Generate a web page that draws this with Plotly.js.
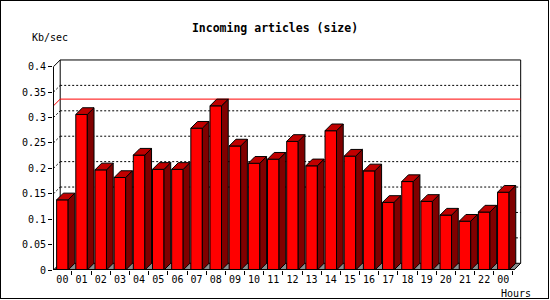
<!DOCTYPE html>
<html>
<head>
<meta charset="utf-8">
<script src="https://cdn.plot.ly/plotly-3.0.1.min.js"></script>
<style>
  html, body { margin: 0; padding: 0; background: #fff; }
  #wrap { position: relative; width: 550px; height: 300px; }
  #chart { width: 550px; height: 300px; }
  #frame { position: absolute; left: 0; top: 0; width: 549px; height: 299px;
           box-sizing: border-box; border: 1px solid #000; pointer-events: none; }
</style>
</head>
<body>
<div id="wrap"><div id="chart"></div><div id="frame"></div></div>
<script>
// ---- data ----
const hours = ['00','01','02','03','04','05','06','07','08','09','10','11',
               '12','13','14','15','16','17','18','19','20','21','22','00'];
const kbps = [0.138, 0.306, 0.197, 0.182, 0.226, 0.198, 0.198, 0.279,
              0.323, 0.244, 0.210, 0.218, 0.253, 0.205, 0.274, 0.224,
              0.195, 0.133, 0.174, 0.135, 0.108, 0.096, 0.114, 0.153];
const gridLevels = [0.15, 0.2, 0.25, 0.3, 0.35];
const shortGridLevels = [0.05, 0.1];

// ---- geometry (data units) ----
const N = kbps.length;
const idx = hours.map((_, i) => i);
const BAR_W = 0.6, DX = 0.35, DY = 0.0132;
const X_RANGE = [-0.49, 23.975];
const Y_RANGE = [0, 0.4151];
const X0 = -0.465;               // front y-axis position
const Y_TOP = 0.4;
const PLANE_R = 23.906;          // back plane right edge
const FRONT_R = PLANE_R - DX;    // front axis right end
const vmax = Math.max(...kbps);

// 3D faces
const sx = [], sy = [], tx = [], ty = [];
kbps.forEach((v, i) => {
  const xl = i - BAR_W / 2, xr = i + BAR_W / 2;
  sx.push(xr, xr + DX, xr + DX, xr, xr, null);
  sy.push(0, DY, v + DY, v, 0, null);
  tx.push(xl, xl + DX, xr + DX, xr, xl, null);
  ty.push(v, v + DY, v + DY, v, v, null);
});

const traces = [
  { type: 'bar', x: idx, y: kbps, width: BAR_W,
    marker: { color: '#ff0000', line: { color: '#000', width: 1 } },
    hoverinfo: 'skip' },
  { type: 'scatter', mode: 'lines', x: sx, y: sy, fill: 'toself',
    fillcolor: '#800000', line: { color: '#000', width: 1 }, hoverinfo: 'skip' },
  { type: 'scatter', mode: 'lines', x: tx, y: ty, fill: 'toself',
    fillcolor: '#c00000', line: { color: '#000', width: 1 }, hoverinfo: 'skip' }
];

const DOT = '2px,2px';
const shapes = [];
// floor
shapes.push({ type: 'path', layer: 'below', xref: 'x', yref: 'y',
  path: `M${X0},0 L${X0 + DX},${DY} L${PLANE_R},${DY} L${FRONT_R},0 Z`,
  fillcolor: '#8c8c8c', line: { color: '#000', width: 1 } });
// back plane outline
shapes.push({ type: 'path', layer: 'below', xref: 'x', yref: 'y',
  path: `M${X0 + DX},${DY} L${X0 + DX},${Y_TOP + DY} L${PLANE_R},${Y_TOP + DY} L${PLANE_R},${DY}`,
  line: { color: '#000', width: 1 } });
// left wall top diagonal
shapes.push({ type: 'line', layer: 'below', xref: 'x', yref: 'y',
  x0: X0, y0: Y_TOP, x1: X0 + DX, y1: Y_TOP + DY, line: { color: '#000', width: 1 } });
// gridlines
gridLevels.forEach(g => {
  shapes.push({ type: 'line', layer: 'below', xref: 'x', yref: 'y',
    x0: X0 + DX, y0: g + DY, x1: PLANE_R, y1: g + DY, line: { color: '#000', width: 1, dash: DOT } });
  shapes.push({ type: 'line', layer: 'below', xref: 'x', yref: 'y',
    x0: X0, y0: g, x1: X0 + DX, y1: g + DY, line: { color: '#000', width: 1, dash: DOT } });
});
shortGridLevels.forEach(g => {
  shapes.push({ type: 'line', layer: 'below', xref: 'x', yref: 'y',
    x0: (N - 1) + 0.45, y0: g + DY, x1: PLANE_R, y1: g + DY, line: { color: '#000', width: 1, dash: DOT } });
});
// max line
shapes.push({ type: 'path', layer: 'below', xref: 'x', yref: 'y',
  path: `M${X0},${vmax} L${X0 + DX},${vmax + DY} L${PLANE_R},${vmax + DY}`,
  line: { color: '#ff0000', width: 1 } });
// front axes
shapes.push({ type: 'line', layer: 'above', xref: 'x', yref: 'y',
  x0: X0, y0: 0, x1: X0, y1: Y_TOP, line: { color: '#000', width: 1 } });
shapes.push({ type: 'line', layer: 'above', xref: 'x', yref: 'y',
  x0: X0, y0: 0.001, x1: FRONT_R, y1: 0.001, line: { color: '#000', width: 1 } });

const FONT = 'DejaVu Sans Mono, Liberation Mono, monospace';
const layout = {
  width: 550, height: 300,
  margin: { l: 53, r: 28, t: 59, b: 30, pad: 0 },
  paper_bgcolor: '#fff', plot_bgcolor: 'rgba(0,0,0,0)',
  showlegend: false,
  font: { family: FONT, size: 10, color: '#000' },
  title: { text: '<b>Incoming articles (size)</b>', x: 0.5, xanchor: 'center',
           y: 0.907, yanchor: 'middle', yref: 'container',
           font: { family: FONT, size: 11.5, color: '#000' } },
  xaxis: {
    range: X_RANGE, showgrid: false, zeroline: false, showline: false,
    tickmode: 'array', tickvals: idx, ticktext: hours,
    ticks: 'outside', ticklen: 0, tickcolor: 'rgba(0,0,0,0)',
    tickfont: { family: FONT, size: 10, color: '#000' },
    minor: { tickmode: 'array', tickvals: idx.concat([N]).map(i => i - 0.5),
             ticks: 'outside', ticklen: 4, tickcolor: '#000', tickwidth: 1, showgrid: false },
    fixedrange: true
  },
  yaxis: {
    range: Y_RANGE, showgrid: false, zeroline: false, showline: false,
    tickmode: 'linear', tick0: 0, dtick: 0.05,
    ticks: 'outside', ticklen: 4, tickcolor: '#000', tickwidth: 1,
    tickfont: { family: FONT, size: 10, color: '#000' },
    fixedrange: true
  },
  shapes: shapes,
  annotations: [
    { text: 'Kb/sec', xref: 'paper', yref: 'paper', x: -0.049, y: 1.102,
      xanchor: 'left', yanchor: 'middle', showarrow: false,
      font: { family: FONT, size: 10, color: '#000' } },
    { text: 'Hours', xref: 'paper', yref: 'paper', x: 1.024, y: -0.11,
      xanchor: 'right', yanchor: 'middle', showarrow: false,
      font: { family: FONT, size: 10, color: '#000' } }
  ]
};

Plotly.newPlot('chart', traces, layout, { displayModeBar: false, staticPlot: true });
</script>
</body>
</html>
